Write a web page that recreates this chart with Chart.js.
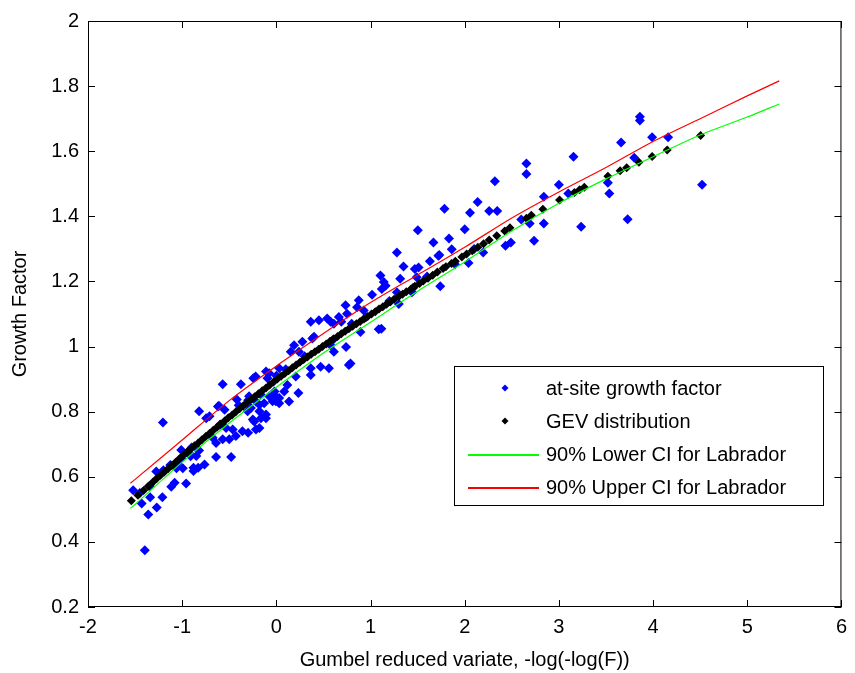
<!DOCTYPE html>
<html>
<head>
<meta charset="utf-8">
<script src="https://cdn.jsdelivr.net/npm/chart.js@4.4.1/dist/chart.umd.min.js"></script>
<style>
  html, body { margin: 0; padding: 0; background: #fff; }
  canvas { display: block; }
</style>
</head>
<body>
<canvas id="growthChart" width="855" height="673"></canvas>
<script>
// at-site growth factors (blue)
const blueX = [
  -1.52, -1.43, -1.397, -1.36, -1.34, -1.27, -1.21, -1.275, -1.116, -1.08, -0.958, -0.993, -0.88, -0.88, -0.83,
  -0.763, -1.01, -1.01, -0.91, -0.82, -0.64, -0.48, -1.204, -0.82, -0.71, -0.62, -0.57, -0.377, -0.245, -0.094,
  -0.676, -0.57, -0.5, -0.43, -0.36, -0.3, -0.217, -0.25, -0.11, -0.305, -0.27, -0.18, -0.64, -0.42, -0.217,
  -0.18, -0.235, -0.18, -0.04, -0.02, -1.06, -0.61, -0.55, -0.22, -0.11, -0.29, -0.165, -0.005, -0.534, -0.464,
  -0.745, -0.92, -0.85, -1.126, -1.345,
  0.03, 0.083, 0.117, -0.023, 0.03, 0.03, 0.234, 0.135, -0.076, -0.13, -0.11, -0.164, 0.206, 0.153, 0.24,
  0.188, 0.276, 0.382, 0.365, 0.365, 0.47, 0.558, 0.576, 0.611, 0.74, 0.77, 0.893, 1.087, 0.365, 0.452,
  0.54, 0.576, 0.611, 0.664, 0.69, 0.75, 0.857, 0.928, 0.735, 0.875, 1.016, 1.16, 1.105, 1.47, -0.076,
  0.4, 0.787, 1.3,
  1.115, 1.12, 1.14, 1.28, 1.44, 1.315, 1.49, 1.35, 1.51, 1.63, 1.73, 1.28, 1.502, 1.668, 1.74,
  1.897, 2.04, 1.72, 1.862, 1.833, 2.0, 1.785, 2.056, 2.137, 2.26, 2.345, 2.32, 2.196, 2.433, 2.49,
  2.655, 2.655, 2.69, 2.736, 2.84, 2.84, 3.0, 3.155, 3.236, 3.52, 3.535, 3.66, 3.73, 3.86, 3.86,
  3.99, 4.16, 4.52,
  -1.45, -1.2, -0.9, -0.6, -0.3, 0.0, 0.3, 0.6, 0.95, 1.2, 1.45, -1.05, -0.4, 0.1, 0.8, 1.6, 2.1, 2.6, 3.1, 3.8
];
const blueY = [
  0.559, 0.518, 0.374, 0.484, 0.537, 0.506, 0.537, 0.616, 0.569, 0.582, 0.579, 0.626, 0.628, 0.618, 0.628,
  0.638, 0.657, 0.682, 0.663, 0.681, 0.661, 0.661, 0.767, 0.801, 0.786, 0.816, 0.884, 0.884, 0.903, 0.903,
  0.72, 0.715, 0.715, 0.725, 0.74, 0.735, 0.745, 0.776, 0.78, 0.801, 0.811, 0.821, 0.704, 0.837, 0.831,
  0.801, 0.77, 0.75, 0.832, 0.862, 0.626, 0.818, 0.806, 0.908, 0.923, 0.847, 0.852, 0.832, 0.75, 0.745,
  0.78, 0.669, 0.664, 0.636, 0.572,
  0.933, 0.862, 0.882, 0.852, 0.842, 0.826, 0.857, 0.831, 0.847, 0.826, 0.791, 0.78, 0.908, 0.984, 0.984,
  1.004, 1.015, 1.025, 0.933, 0.913, 0.938, 0.933, 1.004, 0.984, 0.999, 0.943, 1.045, 1.053, 1.076, 1.081,
  1.086, 1.076, 1.07, 1.091, 1.076, 1.101, 1.121, 1.111, 1.127, 1.142, 1.159, 1.187, 1.218, 1.238, 0.918,
  1.03, 0.948, 1.131,
  1.055, 1.177, 1.198, 1.167, 1.167, 1.208, 1.213, 1.246, 1.243, 1.262, 1.281, 1.289, 1.357, 1.32, 1.185,
  1.253, 1.257, 1.279, 1.299, 1.332, 1.36, 1.423, 1.411, 1.444, 1.416, 1.416, 1.508, 1.289, 1.31, 1.32,
  1.562, 1.53, 1.378, 1.325, 1.46, 1.378, 1.497, 1.583, 1.368, 1.503, 1.47, 1.627, 1.391, 1.706, 1.694,
  1.643, 1.643, 1.497,
  0.55, 0.62, 0.69, 0.76, 0.835, 0.91, 0.97, 1.02, 1.09, 1.14, 1.18, 0.64, 0.82, 0.93, 1.07, 1.215, 1.30, 1.39, 1.47, 1.58
];

// fitted GEV growth curve (black)
const gevX = [
  -1.54, -1.47, -1.41, -1.36, -1.31, -1.27, -1.23, -1.19, -1.15, -1.11, -1.07, -1.03, -0.99, -0.95, -0.91,
  -0.87, -0.83, -0.79, -0.75, -0.71, -0.67, -0.63, -0.59, -0.55, -0.51, -0.47, -0.43, -0.39, -0.35, -0.31,
  -0.27, -0.23, -0.19, -0.15, -0.11, -0.07, -0.03, 0.01, 0.05, 0.09, 0.13, 0.17, 0.21, 0.25, 0.29,
  0.33, 0.37, 0.41, 0.45, 0.49, 0.53, 0.57, 0.61, 0.65, 0.69, 0.73, 0.77, 0.81, 0.85, 0.89,
  0.93, 0.97, 1.01, 1.05, 1.09, 1.13, 1.17, 1.21, 1.25, 1.30, 1.34, 1.38, 1.43, 1.47, 1.52,
  1.56, 1.61, 1.66, 1.71, 1.77, 1.80, 1.86, 1.90, 1.97, 2.02, 2.08, 2.14, 2.20, 2.26, 2.34,
  2.425, 2.48, 2.655, 2.707, 2.83, 3.007, 3.165, 3.22, 3.27, 3.52, 3.65, 3.72, 3.85, 3.99, 4.15, 4.505
];
const gevY = [
  0.526, 0.543, 0.558, 0.571, 0.584, 0.595, 0.605, 0.615, 0.625, 0.635, 0.645, 0.655, 0.665, 0.675, 0.685,
  0.695, 0.704, 0.714, 0.724, 0.733, 0.743, 0.752, 0.762, 0.771, 0.781, 0.790, 0.800, 0.809, 0.818, 0.828,
  0.837, 0.846, 0.855, 0.864, 0.873, 0.882, 0.891, 0.900, 0.909, 0.917, 0.926, 0.935, 0.943, 0.952, 0.960,
  0.968, 0.976, 0.984, 0.992, 1.000, 1.008, 1.016, 1.024, 1.031, 1.039, 1.047, 1.055, 1.062, 1.070, 1.077,
  1.085, 1.092, 1.100, 1.107, 1.115, 1.122, 1.130, 1.137, 1.145, 1.154, 1.161, 1.168, 1.177, 1.185, 1.194,
  1.201, 1.210, 1.219, 1.229, 1.240, 1.245, 1.255, 1.262, 1.275, 1.284, 1.294, 1.305, 1.316, 1.327, 1.340,
  1.355, 1.365, 1.394, 1.403, 1.422, 1.450, 1.473, 1.482, 1.489, 1.523, 1.540, 1.549, 1.566, 1.584, 1.604, 1.648
];

// 90% confidence band for Labrador
const ciX = [-1.55, -1.5, -1, -0.5, 0, 0.5, 1, 1.5, 2, 2.5, 3, 3.5, 4, 4.5, 5, 5.34];
const lowerY = [0.503, 0.515, 0.645, 0.765, 0.875, 0.98, 1.075, 1.17, 1.26, 1.355, 1.44, 1.515, 1.583, 1.65, 1.705, 1.745];
const upperY = [0.580, 0.592, 0.713, 0.834, 0.94, 1.04, 1.135, 1.22, 1.305, 1.395, 1.475, 1.55, 1.63, 1.70, 1.77, 1.816];

const xTicks = [-2, -1, 0, 1, 2, 3, 4, 5, 6];
const yTicks = [0.2, 0.4, 0.6, 0.8, 1, 1.2, 1.4, 1.6, 1.8, 2];

const FONT = 'Liberation Sans, Arial, sans-serif';
const BLUE = '#0000ff';
const BLACK = '#000000';
const GREEN = '#00ff00';
const RED = '#ff0000';

function toPoints(xs, ys) {
  return xs.map((x, i) => ({ x: x, y: ys[i] }));
}

// box round the axes with inward ticks, like the original
const framePlugin = {
  id: 'frame',
  afterDatasetsDraw(chart) {
    const { ctx, chartArea: a, scales } = chart;
    const tl = 7;
    ctx.save();
    ctx.strokeStyle = '#000';
    ctx.lineWidth = 1;
    ctx.strokeRect(a.left + 0.5, a.top + 0.5, a.right - a.left - 1, a.bottom - a.top - 1);
    ctx.beginPath();
    xTicks.forEach(v => {
      const px = Math.round(scales.x.getPixelForValue(v)) + 0.5;
      ctx.moveTo(px, a.bottom); ctx.lineTo(px, a.bottom - tl);
      ctx.moveTo(px, a.top); ctx.lineTo(px, a.top + tl);
    });
    yTicks.forEach(v => {
      const py = Math.round(scales.y.getPixelForValue(v)) + 0.5;
      ctx.moveTo(a.left, py); ctx.lineTo(a.left + tl, py);
      ctx.moveTo(a.right, py); ctx.lineTo(a.right - tl, py);
    });
    ctx.stroke();
    ctx.restore();
  }
};

function diamond(ctx, x, y, r, color) {
  ctx.beginPath();
  ctx.moveTo(x, y - r);
  ctx.lineTo(x + r, y);
  ctx.lineTo(x, y + r);
  ctx.lineTo(x - r, y);
  ctx.closePath();
  ctx.fillStyle = color;
  ctx.fill();
}

// legend box in the lower right of the axes
const legendItems = [
  { text: 'at-site growth factor', marker: BLUE },
  { text: 'GEV distribution', marker: BLACK },
  { text: '90% Lower CI for Labrador', line: GREEN },
  { text: '90% Upper CI for Labrador', line: RED }
];

const legendPlugin = {
  id: 'boxLegend',
  afterDraw(chart) {
    const ctx = chart.ctx;
    const box = { l: 454, t: 366, r: 823, b: 505 };
    const rows = [388, 421, 454, 487];
    ctx.save();
    ctx.fillStyle = '#fff';
    ctx.fillRect(box.l, box.t, box.r - box.l, box.b - box.t);
    ctx.strokeStyle = '#000';
    ctx.lineWidth = 1;
    ctx.strokeRect(box.l + 0.5, box.t + 0.5, box.r - box.l, box.b - box.t);

    legendItems.forEach((item, i) => {
      const y = rows[i];
      if (item.line) {
        // 2px sample so the colour survives in the screenshot
        ctx.fillStyle = item.line;
        ctx.fillRect(468, y, 71, 2);
      } else {
        diamond(ctx, 505, y, 3.5, item.marker);
      }
      ctx.fillStyle = '#000';
      ctx.font = '20px ' + FONT;
      ctx.textBaseline = 'middle';
      ctx.textAlign = 'left';
      ctx.fillText(item.text, 546, y + 1);
    });
    ctx.restore();
  }
};

new Chart(document.getElementById('growthChart'), {
  type: 'scatter',
  data: {
    datasets: [
      {
        label: legendItems[0].text,
        data: toPoints(blueX, blueY),
        pointStyle: 'rectRot',
        pointRadius: 5,
        backgroundColor: BLUE,
        borderColor: BLUE,
        borderWidth: 0,
        order: 4
      },
      {
        label: legendItems[1].text,
        data: toPoints(gevX, gevY),
        pointStyle: 'rectRot',
        pointRadius: 4.5,
        backgroundColor: BLACK,
        borderColor: BLACK,
        borderWidth: 0,
        order: 3
      },
      {
        label: legendItems[2].text,
        data: toPoints(ciX, lowerY),
        showLine: true,
        borderColor: GREEN,
        borderWidth: 1.2,
        pointRadius: 0,
        tension: 0.3,
        order: 2
      },
      {
        label: legendItems[3].text,
        data: toPoints(ciX, upperY),
        showLine: true,
        borderColor: RED,
        borderWidth: 1.2,
        pointRadius: 0,
        tension: 0.3,
        order: 1
      }
    ]
  },
  options: {
    responsive: false,
    animation: false,
    events: [],
    layout: { padding: { left: 0, top: 17, right: 10, bottom: 0 } },
    plugins: {
      legend: { display: false },
      tooltip: { enabled: false }
    },
    scales: {
      x: {
        type: 'linear',
        min: -2,
        max: 6,
        afterBuildTicks: scale => { scale.ticks = xTicks.map(v => ({ value: v })); },
        afterFit: scale => { scale.height = 66; },
        grid: { display: false, drawTicks: false },
        border: { display: false },
        ticks: {
          color: '#000',
          padding: 8,
          font: { family: FONT, size: 20 },
          callback: v => String(Math.round(v * 10) / 10)
        },
        title: {
          display: true,
          text: 'Gumbel reduced variate, -log(-log(F))',
          color: '#000',
          padding: { top: 0, bottom: 1 },
          font: { family: FONT, size: 20 }
        }
      },
      y: {
        type: 'linear',
        min: 0.2,
        max: 2,
        afterBuildTicks: scale => { scale.ticks = yTicks.map(v => ({ value: v })); },
        afterFit: scale => { scale.width = 88; },
        grid: { display: false, drawTicks: false },
        border: { display: false },
        ticks: {
          color: '#000',
          padding: 9,
          font: { family: FONT, size: 20 },
          callback: v => String(Math.round(v * 10) / 10)
        },
        title: {
          display: true,
          text: 'Growth Factor',
          color: '#000',
          padding: { top: 8, bottom: 0 },
          font: { family: FONT, size: 20 }
        }
      }
    }
  },
  plugins: [framePlugin, legendPlugin]
});
</script>
</body>
</html>
